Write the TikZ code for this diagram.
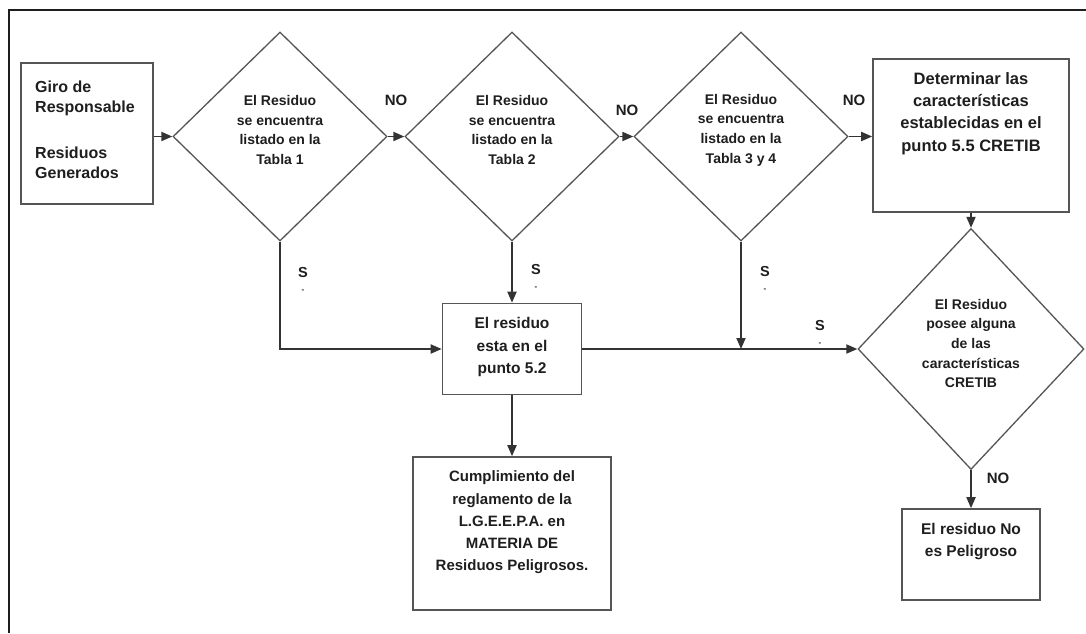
\documentclass[tikz,border=0pt]{standalone}
\usepackage{fontspec}
\setmainfont{Liberation Sans}
\usetikzlibrary{shapes.geometric,arrows.meta}
\definecolor{ink}{HTML}{1E1E1E}
\definecolor{edge}{HTML}{555555}
\definecolor{wire}{HTML}{333333}
\begin{document}
\begin{tikzpicture}[x=1pt,y=-1pt,
  box/.style={draw=edge,line width=1.6pt,rectangle,inner sep=0pt},
  decision/.style={draw=edge,line width=1.3pt,diamond,inner sep=0pt,aspect=1},
  boxtext/.style={text=ink,align=center,inner sep=0pt,
    font=\fontsize{15.5}{22.5}\selectfont\bfseries},
  asktext/.style={text=ink,align=center,inner sep=0pt,
    font=\fontsize{14}{19.7}\selectfont\bfseries},
  answer/.style={text=ink,inner sep=0pt,font=\fontsize{15}{18}\selectfont\bfseries},
  yes/.style={text=ink,align=center,inner sep=0pt,
    font=\fontsize{14.5}{15}\selectfont\bfseries},
  flow/.style={draw=wire,line width=1.8pt,-{Triangle[length=11pt,width=9pt]}},
  link/.style={draw=wire,line width=1.8pt},
]
\useasboundingbox (0,0) rectangle (1086,633);

% outer frame (top and left sides)
\draw[line width=2.6pt,color=ink] (9,633) -- (9,10) -- (1086,10);

% process boxes
\node[box,minimum width=132pt,minimum height=141pt] (giro) at (87,133.5) {};
\node[text=ink,align=left,inner sep=0pt,anchor=west,
      font=\fontsize{16}{20}\selectfont\bfseries] (girot) at (35,130)
  {Giro de\\Responsable\\[26pt]Residuos\\Generados};

\node[box,minimum width=196pt,minimum height=153pt] (det) at (971,135.5) {};
\node[boxtext,font=\fontsize{16.5}{22.4}\selectfont\bfseries] (dett) at (971,113.5)
  {Determinar las\\características\\establecidas en el\\punto 5.5 CRETIB};

\node[box,minimum width=139pt,minimum height=91pt] (b52) at (512,349) {};
\node[boxtext] (b52t) at (512,347) {El residuo\\esta en el\\punto 5.2};

\node[box,minimum width=198pt,minimum height=153pt] (cump) at (512,533.5) {};
\node[boxtext,font=\fontsize{15}{22.2}\selectfont\bfseries] (cumpt) at (512,522.5)
  {Cumplimiento del\\reglamento de la\\L.G.E.E.P.A. en\\MATERIA DE\\Residuos Peligrosos.};

\node[box,minimum width=138pt,minimum height=91pt] (np) at (971,554.5) {};
\node[boxtext] (npt) at (971,541.5) {El residuo No\\es Peligroso};

% decisions
\node[decision,minimum width=214pt,minimum height=209pt] (d1) at (280,136.5) {};
\node[asktext] (d1t) at (280,130) {El Residuo\\se encuentra\\listado en la\\Tabla 1};

\node[decision,minimum width=214pt,minimum height=209pt] (d2) at (512,136.5) {};
\node[asktext] (d2t) at (512,130) {El Residuo\\se encuentra\\listado en la\\Tabla 2};

\node[decision,minimum width=214pt,minimum height=209pt] (d3) at (741,136.5) {};
\node[asktext] (d3t) at (741,130) {El Residuo\\se encuentra\\listado en la\\Tabla 3 y 4};

\node[decision,minimum width=226pt,minimum height=241pt] (d4) at (971,349) {};
\node[asktext] (d4t) at (971,343.5)
  {El Residuo\\posee alguna\\de las\\características\\CRETIB};

% connectors
\draw[flow] (giro.east |- d1.west) -- (d1.west);
\draw[flow] (d1.east) -- (d2.west);
\draw[flow] (d2.east) -- (d3.west);
\draw[flow] (d3.east) -- (det.west |- d3.east);
\draw[flow] (d1.south) |- (b52.west);
\draw[flow] (d2.south) -- (b52.north);
\draw[flow] (b52.east) -- (d4.west);
\draw[flow] (d3.south) -- (d3.south |- b52.east);
\draw[flow] (det.south) -- (d4.north);
\draw[flow] (d4.south) -- (np.north);
\draw[flow] (b52.south) -- (cump.north);

% answer labels
\node[answer] (no1) at (396,100) {NO};
\node[answer] (no2) at (627,110) {NO};
\node[answer] (no3) at (854,100) {NO};
\node[answer] (no4) at (998,478) {NO};
\node[yes] (si1) at (303,280) {S\\{\fontsize{8}{8}\selectfont -}};
\node[yes] (si2) at (536,277) {S\\{\fontsize{8}{8}\selectfont -}};
\node[yes] (si3) at (765,279) {S\\{\fontsize{8}{8}\selectfont -}};
\node[yes] (si4) at (820,333) {S\\{\fontsize{8}{8}\selectfont -}};
\end{tikzpicture}
\end{document}
